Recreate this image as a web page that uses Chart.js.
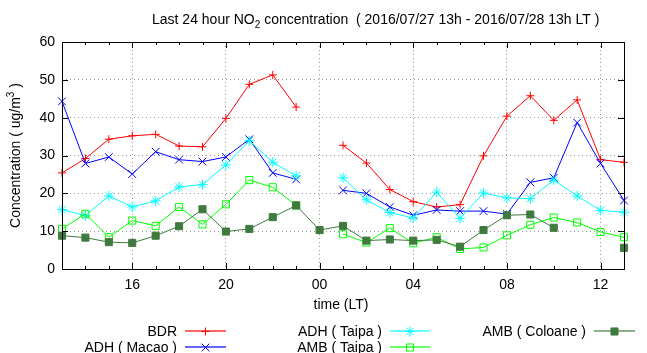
<!DOCTYPE html>
<html>
<head>
<meta charset="utf-8">
<script src="https://cdn.jsdelivr.net/npm/chart.js@4.4.1/dist/chart.umd.min.js"></script>
<style>
  html, body { margin: 0; padding: 0; background: #fff; }
  canvas { display: block; }
</style>
</head>
<body>
<canvas id="no2" width="647" height="353"></canvas>
<script>
// hourly labels, 2016/07/27 13h .. 2016/07/28 13h
const hours = ['13','14','15','16','17','18','19','20','21','22','23','00',
               '01','02','03','04','05','06','07','08','09','10','11','12','13'];
const majorHours = ['16','20','00','04','08','12'];

// ug/m3, null = no data
const bdr        = [25.4, 29.2, 34.3, 35.2, 35.6, 32.5, 32.3, 39.8, 48.8, 51.3, 42.8, null,
                    32.7, 28.0, 21.0, 17.8, 16.4, 17.0, 29.9, 40.4, 45.8, 39.3, 44.7, 28.9, 28.2];
const adhMacao   = [44.3, 27.9, 29.6, 25.1, 31.0, 28.9, 28.4, 29.6, 34.3, 25.4, 23.7, null,
                    20.8, 20.0, 16.4, 14.2, 15.6, 15.3, 15.3, 14.5, 22.9, 24.1, 38.7, 27.9, 18.1];
const adhTaipa   = [15.7, 14.1, 19.3, 16.4, 18.0, 21.7, 22.3, 27.5, 33.9, 28.2, 24.6, null,
                    24.1, 18.3, 14.9, 13.5, 20.3, 13.4, 20.1, 18.8, 18.6, 23.5, 19.3, 15.5, 15.0];
const ambTaipa   = [10.6, 14.6, 8.4, 12.8, 11.4, 16.4, 11.8, 17.1, 23.5, 21.6, 16.8, null,
                    9.2, 7.0, 10.8, 6.8, 8.4, 5.3, 5.7, 8.9, 11.7, 13.6, 12.3, 9.8, 8.4];
const ambColoane = [8.8, 8.3, 7.1, 6.9, 8.8, 11.3, 15.8, 9.9, 10.6, 13.7, 16.8, 10.3,
                    11.4, 7.5, 7.8, 7.5, 7.7, 5.9, 10.3, 14.2, 14.4, 10.9, null, null, 5.6];

const yTicks = [0, 10, 20, 30, 40, 50, 60];

const FONT = '"Liberation Sans", Arial, sans-serif';

function series(label, data, color, style, radius, fill, order) {
  return {
    label: label,
    data: data,
    borderColor: color,
    backgroundColor: fill,
    borderWidth: 1,
    pointStyle: style,
    pointRadius: radius,
    pointBorderWidth: 1,
    pointBorderColor: color,
    pointBackgroundColor: fill,
    spanGaps: false,
    tension: 0,
    clip: false,
    order: order
  };
}

const datasets = [
  series('BDR', bdr, '#ff0000', 'cross', 4, '#ff0000', 5),
  series('ADH ( Macao )', adhMacao, '#0000ff', 'crossRot', 5.5, '#0000ff', 4),
  series('ADH ( Taipa )', adhTaipa, '#00ffff', 'star', 5, '#00ffff', 3),
  series('AMB ( Taipa )', ambTaipa, '#00ff00', 'rect', 5, 'rgba(0,0,0,0)', 2),
  series('AMB ( Coloane )', ambColoane, '#3f7a3f', 'rect', 5, '#3f7a3f', 1)
];

// legend slots: [text right edge, line start, line end, y]
const legendSlots = [
  [177, 185, 226, 331],
  [177, 185, 226, 347],
  [382, 390, 430, 331],
  [382, 390, 430, 347],
  [586, 594, 635, 331]
];

function marker(ctx, ds, x, y) {
  ctx.save();
  ctx.strokeStyle = ds.borderColor;
  ctx.fillStyle = ds.pointBackgroundColor;
  ctx.lineWidth = 1;
  if (Chart.helpers && Chart.helpers.drawPoint) {
    Chart.helpers.drawPoint(ctx, {pointStyle: ds.pointStyle, radius: ds.pointRadius, rotation: 0, borderWidth: 1}, x, y);
  }
  ctx.restore();
}

const gnuFrame = {
  id: 'gnuFrame',
  afterDraw(chart) {
    const ctx = chart.ctx;
    const a = chart.chartArea;
    const xs = chart.scales.x, ys = chart.scales.y;
    ctx.save();
    ctx.strokeStyle = '#000';
    ctx.lineWidth = 1;
    // frame
    ctx.strokeRect(Math.round(a.left) + 0.5, Math.round(a.top) + 0.5,
                   Math.round(a.right - a.left), Math.round(a.bottom - a.top));
    // inward ticks
    ctx.beginPath();
    hours.forEach((h, i) => {
      const x = Math.round(xs.getPixelForValue(i)) + 0.5;
      const len = majorHours.includes(h) && i > 0 && i < hours.length - 1 ? 6 : 3;
      ctx.moveTo(x, a.bottom); ctx.lineTo(x, a.bottom - len);
      ctx.moveTo(x, a.top); ctx.lineTo(x, a.top + len);
    });
    yTicks.forEach(v => {
      const y = Math.round(ys.getPixelForValue(v)) + 0.5;
      ctx.moveTo(a.left, y); ctx.lineTo(a.left + 6, y);
      ctx.moveTo(a.right, y); ctx.lineTo(a.right - 6, y);
    });
    ctx.stroke();

    ctx.fillStyle = '#000';
    ctx.textBaseline = 'alphabetic';
    // title with subscript
    ctx.font = '14px ' + FONT;
    ctx.textAlign = 'left';
    let tx = 152;
    const t1 = 'Last 24 hour NO', t2 = '2', t3 = ' concentration  ( 2016/07/27 13h - 2016/07/28 13h LT )';
    ctx.fillText(t1, tx, 24);
    tx += ctx.measureText(t1).width;
    ctx.font = '10px ' + FONT;
    ctx.fillText(t2, tx, 28);
    tx += ctx.measureText(t2).width;
    ctx.font = '14px ' + FONT;
    ctx.fillText(t3, tx, 24);

    // x title
    ctx.textAlign = 'center';
    ctx.fillText('time (LT)', (a.left + a.right) / 2 - 2, 309);

    // y title with superscript
    ctx.save();
    ctx.translate(20, (a.top + a.bottom) / 2);
    ctx.rotate(-Math.PI / 2);
    const y1 = 'Concentration ( ug/m', y2 = '3', y3 = ' )';
    ctx.font = '14px ' + FONT;
    const w1 = ctx.measureText(y1).width, w3 = ctx.measureText(y3).width;
    ctx.font = '10px ' + FONT;
    const w2 = ctx.measureText(y2).width;
    let yx = -(w1 + w2 + w3) / 2;
    ctx.textAlign = 'left';
    ctx.font = '14px ' + FONT;
    ctx.fillText(y1, yx, 0);
    ctx.font = '10px ' + FONT;
    ctx.fillText(y2, yx + w1, -6);
    ctx.font = '14px ' + FONT;
    ctx.fillText(y3, yx + w1 + w2, 0);
    ctx.restore();

    // legend
    chart.data.datasets.forEach((ds, i) => {
      const s = legendSlots[i];
      ctx.font = '14px ' + FONT;
      ctx.textAlign = 'right';
      ctx.fillStyle = '#000';
      ctx.fillText(ds.label, s[0], s[3] + 5);
      ctx.save();
      ctx.globalAlpha = 0.6;
      ctx.strokeStyle = ds.borderColor;
      ctx.lineWidth = 2;
      ctx.beginPath();
      ctx.moveTo(s[1], s[3]);
      ctx.lineTo(s[2], s[3]);
      ctx.stroke();
      ctx.restore();
      marker(ctx, ds, (s[1] + s[2]) / 2, s[3] + 0.5);
    });
    ctx.restore();
  }
};

new Chart(document.getElementById('no2'), {
  type: 'line',
  data: { labels: hours, datasets: datasets },
  options: {
    responsive: false,
    animation: false,
    events: [],
    layout: { padding: { top: 42, right: 23, left: 0, bottom: 0 } },
    plugins: { legend: { display: false }, title: { display: false }, tooltip: { enabled: false } },
    scales: {
      x: {
        type: 'category',
        offset: false,
        afterFit: function(scale) { scale.height = 84; },
        grid: {
          drawTicks: false,
          color: function(c) {
            const h = hours[c.index];
            return (majorHours.includes(h) && c.index > 0 && c.index < hours.length - 1) ? '#999' : 'rgba(0,0,0,0)';
          }
        },
        border: { display: false, dash: [1, 3] },
        ticks: {
          autoSkip: false,
          maxRotation: 0,
          padding: 8,
          color: '#000',
          font: { family: FONT, size: 14 },
          callback: function(v, i) { return majorHours.includes(hours[i]) && i < hours.length - 1 ? hours[i] : ''; }
        }
      },
      y: {
        min: 0,
        max: 60,
        afterFit: function(scale) { scale.width = 62; },
        afterBuildTicks: function(scale) { scale.ticks = yTicks.map(v => ({ value: v })); },
        grid: {
          drawTicks: false,
          color: function(c) { return (c.tick.value > 0 && c.tick.value < 60) ? '#999' : 'rgba(0,0,0,0)'; }
        },
        border: { display: false, dash: [1, 3] },
        ticks: {
          padding: 7,
          color: '#000',
          font: { family: FONT, size: 14 }
        }
      }
    }
  },
  plugins: [gnuFrame]
});
</script>
</body>
</html>
